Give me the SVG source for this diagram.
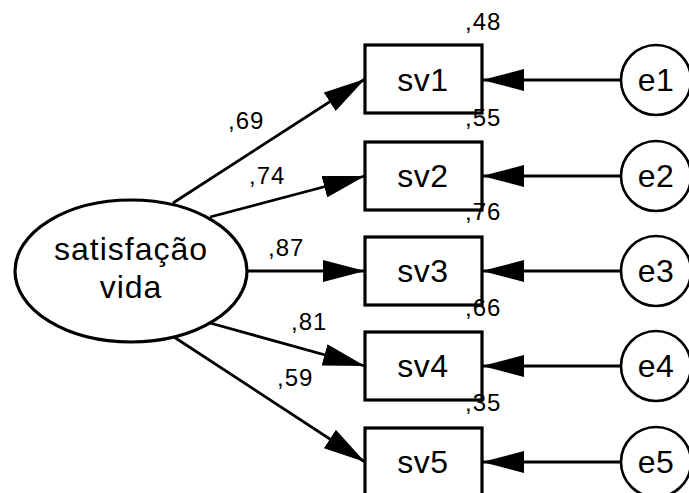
<svg xmlns="http://www.w3.org/2000/svg" width="689" height="493" viewBox="0 0 689 493">
<style>
.box{fill:#fff;stroke:#000;stroke-width:3.2}
.err{fill:#fff;stroke:#000;stroke-width:2.6}
.lat{fill:#fff;stroke:#000;stroke-width:3.2}
.edge{stroke:#000;stroke-width:2.8;fill:none;marker-end:url(#ah)}
text{font-family:"Liberation Sans",Arial,sans-serif;fill:#000}
.lbl{font-size:32px;text-anchor:middle;letter-spacing:0.5px}
.big{letter-spacing:1px}
.num{font-size:24px;letter-spacing:1px}
</style>
<defs>
<marker id="ah" markerUnits="userSpaceOnUse" markerWidth="44" markerHeight="22" refX="42" refY="11" orient="auto">
<path d="M0,0 L42,11 L0,22 z" fill="#000"/>
</marker>
</defs>
<rect width="689" height="493" fill="#fff"/>
<g id="connectors">
<line class="edge" x1="173" y1="203" x2="365" y2="79"/>
<line class="edge" x1="210" y1="217" x2="365" y2="176"/>
<line class="edge" x1="246" y1="271" x2="365" y2="271"/>
<line class="edge" x1="210" y1="323" x2="365" y2="366"/>
<line class="edge" x1="174" y1="337" x2="365" y2="462"/>
<line class="edge" x1="621" y1="80" x2="482" y2="80"/>
<line class="edge" x1="621" y1="176" x2="482" y2="176"/>
<line class="edge" x1="621" y1="271" x2="482" y2="271"/>
<line class="edge" x1="621" y1="366" x2="482" y2="366"/>
<line class="edge" x1="621" y1="462" x2="482" y2="462"/>
</g>
<g id="edge-labels">
<text class="num" x="228" y="129">,69</text>
<text class="num" x="249" y="184">,74</text>
<text class="num" x="268" y="256">,87</text>
<text class="num" x="291" y="330">,81</text>
<text class="num" x="277" y="386">,59</text>
</g>
<g id="satisfacao-vida">
<ellipse class="lat" cx="131" cy="271" rx="116" ry="71"/>
<text class="lbl big" x="131" y="260">satisfação</text>
<text class="lbl big" x="131" y="298">vida</text>
</g>
<g id="sv1">
<rect class="box" x="365" y="45" width="117" height="68"/>
<text class="lbl" x="423" y="91">sv1</text>
<text class="num" x="465" y="30">,48</text>
</g>
<g id="sv2">
<rect class="box" x="365" y="142" width="117" height="68"/>
<text class="lbl" x="423" y="187">sv2</text>
<text class="num" x="465" y="126">,55</text>
</g>
<g id="sv3">
<rect class="box" x="365" y="237" width="117" height="68"/>
<text class="lbl" x="423" y="282">sv3</text>
<text class="num" x="465" y="220">,76</text>
</g>
<g id="sv4">
<rect class="box" x="365" y="332" width="117" height="68"/>
<text class="lbl" x="423" y="377">sv4</text>
<text class="num" x="465" y="316">,66</text>
</g>
<g id="sv5">
<rect class="box" x="365" y="428" width="117" height="68"/>
<text class="lbl" x="423" y="473">sv5</text>
<text class="num" x="465" y="411">,35</text>
</g>
<g id="e1"><circle class="err" cx="656" cy="80" r="35"/><text class="lbl" x="656" y="91">e1</text></g>
<g id="e2"><circle class="err" cx="656" cy="176" r="35"/><text class="lbl" x="656" y="187">e2</text></g>
<g id="e3"><circle class="err" cx="656" cy="271" r="35"/><text class="lbl" x="656" y="282">e3</text></g>
<g id="e4"><circle class="err" cx="656" cy="366" r="35"/><text class="lbl" x="656" y="377">e4</text></g>
<g id="e5"><circle class="err" cx="656" cy="462" r="35"/><text class="lbl" x="656" y="473">e5</text></g>
</svg>
